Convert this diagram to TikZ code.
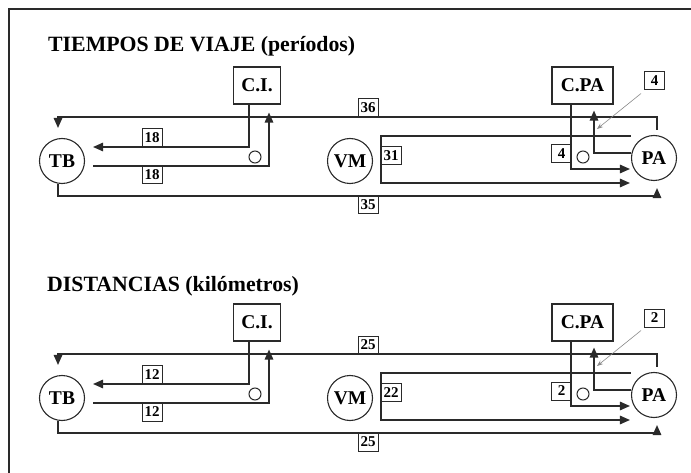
\documentclass[tikz,border=0pt]{standalone}
\usepackage{fontspec}
\setmainfont{Liberation Serif}
\usetikzlibrary{arrows.meta}
\definecolor{ink}{HTML}{2A2A2A}
\definecolor{thinink}{HTML}{8A8A8A}
\tikzset{
  ln/.style={draw=ink, line width=1.4pt},
  arr/.style={ln, -{Triangle[length=10pt,width=8.5pt]}},
  town/.style={circle, draw=ink, line width=1.1pt, minimum size=45pt, inner sep=0pt,
    font=\fontsize{19.5}{22}\selectfont\bfseries},
  centre/.style={rectangle, draw=ink, line width=1.1pt, minimum height=37pt, inner sep=0pt,
    font=\fontsize{19.5}{22}\selectfont\bfseries},
  numbox/.style={rectangle, draw=ink, line width=1pt, minimum width=20pt, minimum height=18pt,
    inner sep=0pt, font=\fontsize{15}{16}\selectfont\bfseries},
  ring/.style={circle, draw=ink, line width=1pt, minimum size=12pt, inner sep=0pt},
  heading/.style={anchor=base west, inner sep=0pt, font=\fontsize{21.8}{26}\selectfont\bfseries},
  pointer/.style={draw=thinink, line width=0.6pt, -{Stealth[length=6pt,width=4.5pt]}}
}
\newcommand\plandiag[9]{%
\begin{scope}[yshift=#1pt, name prefix=#9-]
  \node[town] (TB) at (62,161) {TB};
  \node[town] (VM) at (350,161) {VM};
  \node[town] (PA) at (654,158) {PA};
  \node[centre, minimum width=47pt] (CI) at (257,85.5) {C.I.};
  \node[centre, minimum width=61pt] (CPA) at (582.5,85.5) {C.PA};
  \coordinate (lvtop) at (0,117);
  \coordinate (lvbot) at (0,196);
  \node[ring] (r1) at (255,157) {};
  \node[ring] (r2) at (583,157) {};
  % connectors
  \draw[arr] ([xshift=3pt,yshift=5pt]PA.north) -- ([xshift=3pt]PA.north |- lvtop)
     -| ([xshift=-4pt,yshift=10pt]TB.north);
  \draw[arr] ([xshift=-8pt]CI.south) |- ([xshift=8pt,yshift=14pt]TB.east);
  \draw[arr] ([xshift=8pt,yshift=-5pt]TB.east) -| ([xshift=12pt,yshift=-8pt]CI.south);
  \draw[arr] ([xshift=-4pt]TB.south) -- ([xshift=-4pt]TB.south |- lvbot)
     -| ([xshift=3pt,yshift=-7pt]PA.south);
  \draw[arr] ([yshift=22pt]PA.west) -- ([xshift=8pt,yshift=25pt]VM.east)
     -- ([xshift=8pt,yshift=-22pt]VM.east) -- ([xshift=-1pt,yshift=-25pt]PA.west);
  \draw[arr] ([xshift=-11.5pt]CPA.south) |- ([xshift=-1pt,yshift=-11pt]PA.west);
  \draw[arr] ([yshift=5pt]PA.west) -| ([xshift=11.5pt,yshift=-6pt]CPA.south);
  % labels
  \node[numbox] (la) at (152,137.5) {#2};
  \node[numbox] (lb) at (152,175) {#3};
  \node[numbox] (lc) at (368,108) {#4};
  \node[numbox] (ld) at (368,205) {#5};
  \node[numbox] (le) at (391,155.5) {#6};
  \node[numbox] (lf) at (561.5,154) {#7};
  \node[numbox] (lg) at (654.5,81) {#8};
  \coordinate (gtip) at (597,129);
  \draw[pointer] ([xshift=-3pt,yshift=-3pt]lg.south west) -- (gtip);
\end{scope}}
\begin{document}
\begin{tikzpicture}[x=1pt,y=-1pt]
  \useasboundingbox (0,0) rectangle (691,473);
  \draw[ink, line width=1.5pt] (9,473) -- (9,9) -- (691,9);
  \node[heading] (t1) at (48,52) {TIEMPOS DE VIAJE (períodos)};
  \node[heading] (t2) at (47,291) {DISTANCIAS (kilómetros)};
  \plandiag{0}{18}{18}{36}{35}{31}{4}{4}{up}
  \plandiag{-237}{12}{12}{25}{25}{22}{2}{2}{dn}
\end{tikzpicture}
\end{document}
